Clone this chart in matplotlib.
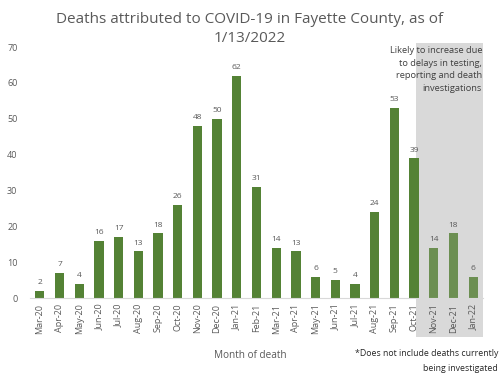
import numpy as np
import matplotlib
matplotlib.use("Agg")
from matplotlib import pyplot as plt
from matplotlib.patches import Rectangle

plt.rcParams['font.family'] = ['Open Sans', 'DejaVu Sans']

months = ['Mar-20', 'Apr-20', 'May-20', 'Jun-20', 'Jul-20', 'Aug-20', 'Sep-20',
          'Oct-20', 'Nov-20', 'Dec-20', 'Jan-21', 'Feb-21', 'Mar-21', 'Apr-21',
          'May-21', 'Jun-21', 'Jul-21', 'Aug-21', 'Sep-21', 'Oct-21', 'Nov-21',
          'Dec-21', 'Jan-22']
deaths = [2, 7, 4, 16, 17, 13, 18, 26, 48, 50, 62, 31, 14, 13, 6, 5, 4, 24, 53,
          39, 14, 18, 6]
n_pending = 3  # last months likely to increase

txt = '#595959'
green = '#548235'
green_pending = '#6c8f52'

fig = plt.figure(figsize=(5, 3.77), dpi=100)
ax = fig.add_axes([0.06, 0.2095, 0.906, 0.6658])

x = np.arange(len(months))
colors = [green] * (len(months) - n_pending) + [green_pending] * n_pending

# grey band behind the pending months
ax.add_patch(Rectangle((0.852, -0.155), 0.148, 1.171, transform=ax.transAxes,
                       facecolor='#d9d9d9', edgecolor='none', zorder=0,
                       clip_on=False))

ax.bar(x, deaths, width=0.47, color=colors, zorder=2)
for xi, v in zip(x, deaths):
    ax.text(xi, v + 1.3, str(v), ha='center', va='bottom', fontsize=6,
            color=txt)

ax.set_xlim(-0.5, len(months) - 0.5)
ax.set_ylim(0, 70)
ax.set_yticks(range(0, 71, 10))
ax.set_xticks(x)
ax.set_xticklabels(months, rotation=90, fontsize=6.5, color=txt)
ax.tick_params(axis='y', labelsize=6.5, labelcolor=txt, length=0, pad=9)
ax.tick_params(axis='x', length=0, pad=4)
for s in ['top', 'right', 'left']:
    ax.spines[s].set_visible(False)
ax.spines['bottom'].set_color('#d9d9d9')
ax.patch.set_visible(False)

fig.text(0.5, 0.967, 'Deaths attributed to COVID-19 in Fayette County, as of\n1/13/2022',
         ha='center', va='top', fontsize=11, color=txt, linespacing=1.3)

fig.text(0.964, 0.877, 'Likely to increase due\nto delays in testing,\nreporting and death\ninvestigations',
         ha='right', va='top', fontsize=6.7, color='#404040', linespacing=1.5)

fig.text(0.5, 0.058, 'Month of death', ha='center', va='center', fontsize=7.2,
         color=txt)
fig.text(0.996, 0.062, '*Does not include deaths currently', ha='right',
         va='center', fontsize=6.3, color='#262626')
fig.text(0.996, 0.023, 'being investigated', ha='right', va='center',
         fontsize=6.3, color='#262626')

fig.savefig('out.png', dpi=100)
